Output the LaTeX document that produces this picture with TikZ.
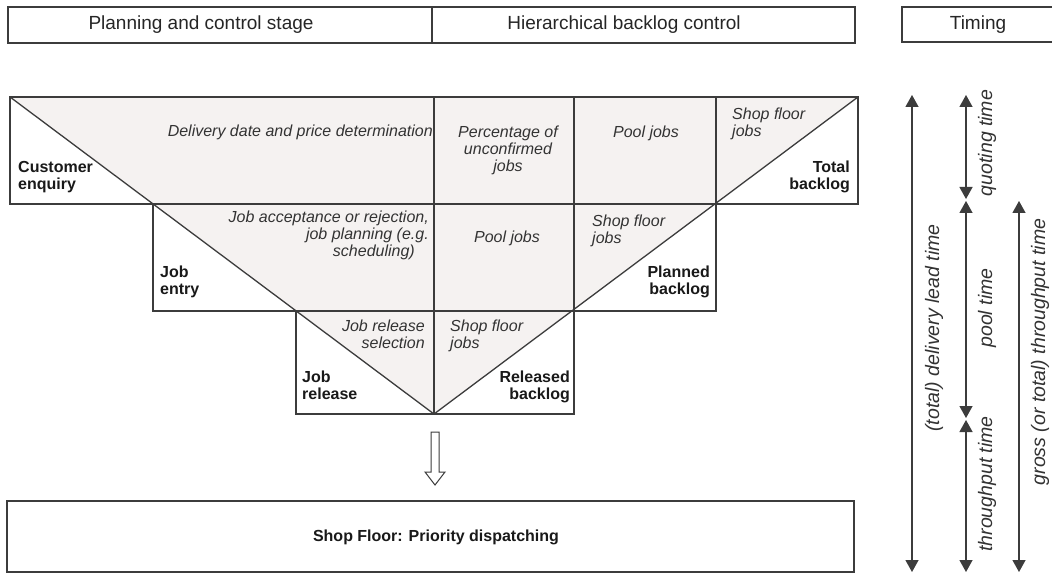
\documentclass[tikz,border=0pt]{standalone}
\usepackage{fontspec}
\setmainfont{Liberation Sans}
\usetikzlibrary{arrows.meta}
\definecolor{ln}{HTML}{3C3C3C}
\definecolor{shadefill}{HTML}{F5F2F1}
\definecolor{txt}{HTML}{333333}
\begin{document}
\begin{tikzpicture}[x=1pt,y=-1pt,
  frame/.style={draw=ln,line width=1.3pt},
  lbl/.style={font=\fontsize{16}{17}\selectfont\itshape,text=txt,inner sep=0pt,execute at begin node=\strut},
  blbl/.style={font=\fontsize{16}{17}\selectfont\bfseries,text=black!90,inner sep=0pt,execute at begin node=\strut},
  head/.style={font=\fontsize{19}{22}\selectfont,inner sep=0pt,text=black!85},
  tlbl/.style={font=\fontsize{19.5}{22}\selectfont\itshape,text=txt,rotate=90,inner sep=0pt},
  tarr/.style={draw=ln,line width=1.3pt,{Triangle[width=13pt,length=12pt]}-{Triangle[width=13pt,length=12pt]}}
]
\useasboundingbox (0,0) rectangle (1052,577);
\fill[white] (0,0) rectangle (1052,577);

% header
\draw[frame,fill=white] (8,7) rectangle (855,43);
\draw[frame] (432,7) -- (432,43);
\draw[frame,fill=white] (902,7) rectangle (1062,42);
\node[head,anchor=base] (h1) at (201,30) {Planning and control stage};
\node[head,anchor=base] (h2) at (624,30) {Hierarchical backlog control};
\node[head,anchor=base] (h3) at (978,30) {Timing};

% inverted triangle
\fill[shadefill] (10,97) -- (858,97) -- (434,414) -- cycle;
\draw[frame] (10,97) rectangle (858,204);
\draw[frame] (153,204) -- (153,311) -- (716,311) -- (716,97);
\draw[frame] (296,311) -- (296,414) -- (574,414) -- (574,97);
\draw[frame] (434,97) -- (434,414);
\draw[frame] (10,97) -- (434,414) -- (858,97);

% row 1
\node[lbl,anchor=base east] (dd) at (433,137) {Delivery date and price determination};
\node[blbl,anchor=north west,align=left] (ce) at (18,161.1) {Customer\\enquiry};
\node[lbl,anchor=north,align=center] (pu) at (508,126.1) {Percentage of\\unconfirmed\\jobs};
\node[lbl,anchor=base] (pj1) at (646,138) {Pool jobs};
\node[lbl,anchor=north west,align=left] (sf1) at (732,108.1) {Shop floor\\jobs};
\node[blbl,anchor=north east,align=right] (tb) at (850,161.1) {Total\\backlog};

% row 2
\node[lbl,anchor=north east,align=right] (ja) at (429,211.1) {Job acceptance or rejection,\\job planning (e.g.\\scheduling)\hspace*{14pt}};
\node[blbl,anchor=north west,align=left] (je) at (160,266.1) {Job\\entry};
\node[lbl,anchor=base] (pj2) at (507,243) {Pool jobs};
\node[lbl,anchor=north west,align=left] (sf2) at (592,215.1) {Shop floor\\jobs};
\node[blbl,anchor=north east,align=right] (pb) at (710,266.1) {Planned\\backlog};

% row 3
\node[lbl,anchor=north east,align=right] (jrs) at (425,320.1) {Job release\\selection};
\node[lbl,anchor=north west,align=left] (sf3) at (450,320.1) {Shop floor\\jobs};
\node[blbl,anchor=north west,align=left] (jr) at (302,371.1) {Job\\release};
\node[blbl,anchor=north east,align=right] (rb) at (570,371.1) {Released\\backlog};

% block arrow
\draw[draw=ln,line width=1pt,fill=white] (431,432) -- (439,432) -- (439,472) -- (445,472) -- (435,485) -- (425,472) -- (431,472) -- cycle;

% shop floor box
\draw[frame] (7,501) rectangle (854,572);
\node[blbl,anchor=base] (sfp) at (436,541) {Shop Floor: Priority dispatching};

% timing arrows
\coordinate (a1t) at (912,95);  \coordinate (a1b) at (912,572);
\coordinate (q1) at (966,95);   \coordinate (q2) at (966,199);
\coordinate (p1) at (966,201);  \coordinate (p2) at (966,418);
\coordinate (r1) at (966,420);  \coordinate (r2) at (966,572);
\coordinate (g1) at (1019,201); \coordinate (g2) at (1019,572);
\draw[tarr] (a1t) -- (a1b);
\draw[tarr] (q1) -- (q2);
\draw[tarr] (p1) -- (p2);
\draw[tarr] (r1) -- (r2);
\draw[tarr] (g1) -- (g2);
\node[tlbl] (tdl) at (934,328) {(total) delivery lead time};
\node[tlbl] (tq) at (987,143) {quoting time};
\node[tlbl] (tp) at (987,308) {pool time};
\node[tlbl] (tt) at (987,484) {throughput time};
\node[tlbl] (tg) at (1040,352) {gross (or total) throughput time};
\end{tikzpicture}
\end{document}
